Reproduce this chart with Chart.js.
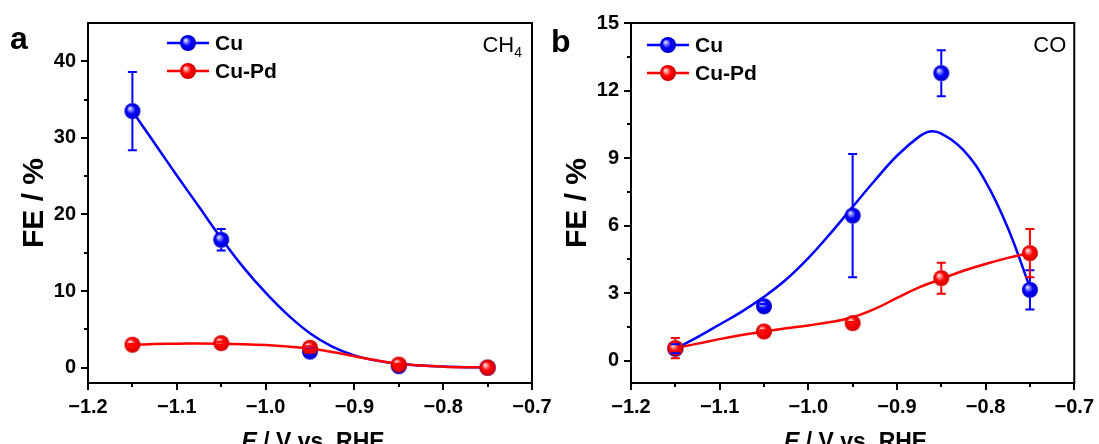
<!DOCTYPE html>
<html>
<head>
<meta charset="utf-8">
<script src="https://cdn.jsdelivr.net/npm/chart.js@4/dist/chart.umd.min.js"></script>
<style>
  html, body { margin: 0; padding: 0; background: #fff; overflow: hidden; width: 1099px; height: 444px; }
  #wrap { position: relative; width: 1099px; height: 444px; overflow: hidden; }
  canvas { position: absolute; top: 0; }
  #panelA { left: 0; }
  #panelB { left: 549px; }
</style>
</head>
<body>
<div id="wrap">
  <canvas id="panelA" width="580" height="460"></canvas>
  <canvas id="panelB" width="550" height="460"></canvas>
</div>
<script>
// ---- measured points (potential in V vs. RHE, Faradaic efficiency in %) ----
const potentials = [-1.15, -1.05, -0.95, -0.85, -0.75];

const ch4Cu      = [33.5, 16.7, 2.1, 0.2, 0.0];
const ch4CuErr   = [5.1, 1.4, 0.4, 0.0, 0.0];
const ch4CuPd    = [3.0, 3.2, 2.6, 0.4, 0.0];
const ch4CuPdErr = [0.1, 0.2, 0.2, 0.1, 0.0];

const coCu      = [0.52, 2.41, 6.44, 12.77, 3.14];
const coCuErr   = [0.2, 0.1, 2.74, 1.02, 0.87];
const coCuPd    = [0.55, 1.29, 1.66, 3.66, 4.77];
const coCuPdErr = [0.45, 0.05, 0.05, 0.69, 1.07];

// ---- fitted guide curves ----
const fitE = [-1.15, -1.125, -1.1, -1.075, -1.05, -1.025, -1.0, -0.975, -0.95,
              -0.925, -0.9, -0.875, -0.85, -0.825, -0.8, -0.775, -0.75];
const ch4CuFit   = [33.5, 29.3, 25.1, 21.0, 16.9, 13.1, 9.8, 6.9, 4.5,
                    2.75, 1.6, 0.92, 0.5, 0.27, 0.14, 0.07, 0.04];
const ch4CuPdFit = [3.0, 3.08, 3.14, 3.16, 3.14, 3.07, 2.95, 2.76, 2.5,
                    2.05, 1.5, 0.96, 0.53, 0.27, 0.13, 0.06, 0.03];
const coCuFitE = [-1.15, -1.125, -1.1, -1.075, -1.05, -1.025, -1.0, -0.975, -0.95,
                  -0.925, -0.9, -0.875, -0.8625, -0.85, -0.825, -0.8, -0.775, -0.75];
const coCuFit  = [0.52, 1.04, 1.6, 2.17, 2.83, 3.6, 4.55, 5.65, 6.83,
                  8.0, 9.1, 9.95, 10.18, 10.08, 9.35, 7.95, 5.9, 3.25];
const coCuPdFit = [0.55, 0.75, 0.95, 1.13, 1.29, 1.43, 1.56, 1.71, 1.92,
                   2.29, 2.78, 3.25, 3.62, 3.99, 4.29, 4.56, 4.78];

// ---- axis ticks ----
const eTicks      = [-1.2, -1.1, -1.0, -0.9, -0.8, -0.7];
const eMinorTicks = [-1.15, -1.05, -0.95, -0.85, -0.75];
const ch4Ticks      = [0, 10, 20, 30, 40];
const ch4MinorTicks = [5, 15, 25, 35];
const coTicks       = [0, 3, 6, 9, 12, 15];
const coMinorTicks  = [1.5, 4.5, 7.5, 10.5, 13.5];

// ---- styling ----
const FONT = '"Liberation Sans", Arial, Helvetica, sans-serif';
const BLUE = '#0000ff', RED = '#ff0000';
const R = 8;       // marker radius
const CAP = 4.5;   // error bar half cap width
Chart.defaults.font.family = FONT;
Chart.defaults.color = '#000';

// shaded ball marker
function sphere(color, light, dark) {
  const s = 18;
  const c = document.createElement('canvas');
  c.width = s; c.height = s;
  const g = c.getContext('2d');
  const cx = s / 2, cy = s / 2;
  const grad = g.createRadialGradient(cx - R * 0.35, cy - R * 0.38, 0, cx, cy, R);
  grad.addColorStop(0, '#ffffff');
  grad.addColorStop(0.2, light);
  grad.addColorStop(0.55, color);
  grad.addColorStop(1, dark);
  g.fillStyle = grad;
  g.beginPath(); g.arc(cx, cy, R, 0, Math.PI * 2); g.fill();
  return c;
}
const blueBall = sphere(BLUE, '#9a9aff', '#0000c4');
const redBall  = sphere(RED, '#ffa0a0', '#cc0000');

const xy = (xs, ys) => xs.map((x, i) => ({ x, y: ys[i] }));
const fmtE = v => (v < 0 ? '\u2212' : '') + Math.abs(v).toFixed(1);

function panel(canvasId, p) {
  const el = document.getElementById(canvasId);
  const W = el.width, H = el.height;

  const decor = {
    id: 'decor',
    afterDatasetsDraw(chart) {
      const { ctx, scales: { x, y } } = chart;
      ctx.save();
      ctx.lineWidth = 2;
      p.series.forEach(s => {
        ctx.strokeStyle = s.color;
        potentials.forEach((e, i) => {
          const err = s.errors[i];
          if (!err) return;
          const px = x.getPixelForValue(e);
          const py = y.getPixelForValue(s.values[i]);
          const top = y.getPixelForValue(s.values[i] + err);
          const bot = y.getPixelForValue(s.values[i] - err);
          ctx.beginPath();
          if (py - top > R) { ctx.moveTo(px, top); ctx.lineTo(px, py - R); }
          if (bot - py > R) { ctx.moveTo(px, py + R); ctx.lineTo(px, bot); }
          ctx.moveTo(px - CAP, top); ctx.lineTo(px + CAP, top);
          ctx.moveTo(px - CAP, bot); ctx.lineTo(px + CAP, bot);
          ctx.stroke();
        });
      });
      ctx.restore();
    },
    afterDraw(chart) {
      const { ctx, chartArea: a, scales: { x, y } } = chart;
      ctx.save();
      // frame
      ctx.strokeStyle = '#000';
      ctx.lineWidth = 2;
      ctx.strokeRect(a.left, a.top, a.right - a.left, a.bottom - a.top);
      // minor ticks
      ctx.beginPath();
      eMinorTicks.forEach(v => {
        const px = Math.round(x.getPixelForValue(v));
        ctx.moveTo(px, a.bottom); ctx.lineTo(px, a.bottom + 4);
      });
      p.yMinor.forEach(v => {
        const py = Math.round(y.getPixelForValue(v));
        ctx.moveTo(a.left, py); ctx.lineTo(a.left - 4, py);
      });
      ctx.stroke();

      // legend
      ctx.font = 'bold 21px ' + FONT;
      ctx.textBaseline = 'middle';
      ctx.textAlign = 'left';
      p.series.forEach((s, i) => {
        const ly = a.top + p.legend.top + i * p.legend.gap;
        const lx = a.left + p.legend.left;
        ctx.strokeStyle = s.color;
        ctx.lineWidth = 2.5;
        ctx.beginPath(); ctx.moveTo(lx, ly); ctx.lineTo(lx + 42, ly); ctx.stroke();
        ctx.drawImage(s.ball, lx + 21 - s.ball.width / 2, ly - s.ball.height / 2);
        ctx.fillStyle = '#000';
        ctx.fillText(s.name, lx + 48, ly + 1);
      });

      // product label (top right)
      ctx.textBaseline = 'alphabetic';
      ctx.fillStyle = '#000';
      ctx.font = '22px ' + FONT;
      const mainW = ctx.measureText(p.product.main).width;
      ctx.font = '14px ' + FONT;
      const subW = p.product.sub ? ctx.measureText(p.product.sub).width : 0;
      const right = a.right - p.product.inset;
      ctx.font = '22px ' + FONT;
      ctx.fillText(p.product.main, right - subW - mainW, 52);
      if (p.product.sub) {
        ctx.font = '14px ' + FONT;
        ctx.fillText(p.product.sub, right - subW, 57);
      }

      // panel letter
      ctx.font = 'bold 32px ' + FONT;
      ctx.fillText(p.letter.text, p.letter.x, p.letter.y);

      // y title
      ctx.save();
      ctx.translate(a.left - 45.5, (a.top + a.bottom) / 2);
      ctx.rotate(-Math.PI / 2);
      ctx.font = 'bold 30px ' + FONT;
      ctx.textAlign = 'center';
      ctx.fillText('FE / %', 0, 0);
      ctx.restore();

      // x title with italic E
      const parts = [
        { t: 'E', f: 'italic bold 23px ' + FONT },
        { t: ' / V vs. RHE', f: 'bold 23px ' + FONT }
      ];
      let total = 0;
      parts.forEach(pt => { ctx.font = pt.f; pt.w = ctx.measureText(pt.t).width; total += pt.w; });
      let tx = (a.left + a.right) / 2 + 3 - total / 2;
      ctx.textAlign = 'left';
      parts.forEach(pt => { ctx.font = pt.f; ctx.fillText(pt.t, tx, a.bottom + 66); tx += pt.w; });
      ctx.restore();
    }
  };

  const [s0, s1] = p.series;
  const datasets = [
    { label: s1.name, data: xy(potentials, s1.values), showLine: false,
      pointStyle: s1.ball, pointRadius: R },
    { label: s0.name, data: xy(potentials, s0.values), showLine: false,
      pointStyle: s0.ball, pointRadius: R },
    { label: s1.name + ' fit', data: xy(s1.fitE, s1.fit), showLine: true, pointRadius: 0,
      borderColor: s1.color, borderWidth: 2.5, tension: 0.4, fill: false },
    { label: s0.name + ' fit', data: xy(s0.fitE, s0.fit), showLine: true, pointRadius: 0,
      borderColor: s0.color, borderWidth: 2.5, tension: 0.4, fill: false }
  ];

  const tickFont = { family: FONT, size: 20, weight: 'bold' };
  const gridOpts = { display: true, drawOnChartArea: false, drawTicks: true,
                     tickLength: 7, lineWidth: 2, color: '#000' };

  return new Chart(el, {
    type: 'scatter',
    data: { datasets },
    options: {
      responsive: false,
      animation: false,
      events: [],
      layout: { padding: { top: p.area.top, right: W - p.area.right, left: 0, bottom: 0 } },
      plugins: { legend: { display: false }, tooltip: { enabled: false } },
      scales: {
        x: {
          type: 'linear', min: -1.2, max: -0.7,
          afterBuildTicks: s => { s.ticks = eTicks.map(v => ({ value: v })); },
          afterFit: s => { s.height = H - p.area.bottom; },
          ticks: { font: tickFont, color: '#000', padding: 5, maxRotation: 0,
                   autoSkip: false, callback: fmtE },
          grid: gridOpts,
          border: { display: true, width: 2, color: '#000' }
        },
        y: {
          type: 'linear', min: p.yMin, max: p.yMax,
          afterBuildTicks: s => { s.ticks = p.yTicks.map(v => ({ value: v })); },
          afterFit: s => { s.width = p.area.left; },
          ticks: { font: tickFont, color: '#000', padding: 5, autoSkip: false,
                   callback: v => String(v) },
          grid: gridOpts,
          border: { display: true, width: 2, color: '#000' }
        }
      }
    },
    plugins: [decor]
  });
}

// panel a: CH4
panel('panelA', {
  area: { left: 88, right: 532, top: 23, bottom: 383 },
  yMin: -2, yMax: 45, yTicks: ch4Ticks, yMinor: ch4MinorTicks,
  letter: { text: 'a', x: 10, y: 49 },
  product: { main: 'CH', sub: '4', inset: 10 },
  legend: { left: 79, top: 20, gap: 28 },
  series: [
    { name: 'Cu', color: BLUE, ball: blueBall, values: ch4Cu, errors: ch4CuErr,
      fitE: fitE, fit: ch4CuFit },
    { name: 'Cu-Pd', color: RED, ball: redBall, values: ch4CuPd, errors: ch4CuPdErr,
      fitE: fitE, fit: ch4CuPdFit }
  ]
});

// panel b: CO
panel('panelB', {
  area: { left: 82, right: 526, top: 23, bottom: 383 },
  yMin: -1, yMax: 15, yTicks: coTicks, yMinor: coMinorTicks,
  letter: { text: 'b', x: 2, y: 52 },
  product: { main: 'CO', sub: '', inset: 8 },
  legend: { left: 16, top: 22, gap: 28 },
  series: [
    { name: 'Cu', color: BLUE, ball: blueBall, values: coCu, errors: coCuErr,
      fitE: coCuFitE, fit: coCuFit },
    { name: 'Cu-Pd', color: RED, ball: redBall, values: coCuPd, errors: coCuPdErr,
      fitE: fitE, fit: coCuPdFit }
  ]
});
</script>
</body>
</html>
